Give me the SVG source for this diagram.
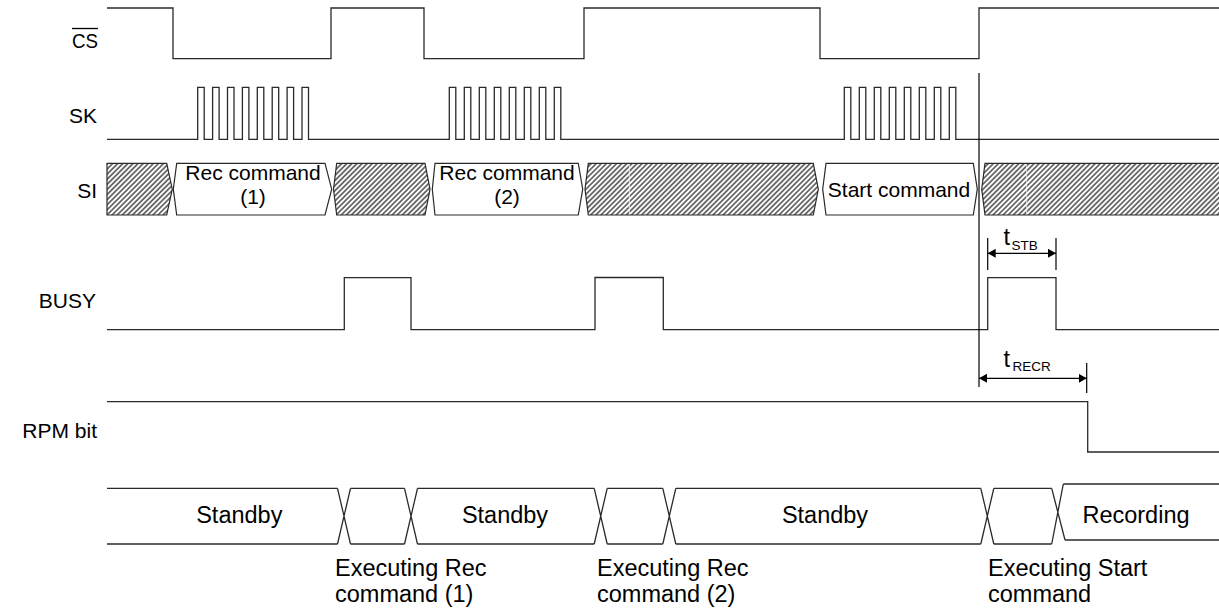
<svg xmlns="http://www.w3.org/2000/svg" width="1219" height="609" viewBox="0 0 1219 609">
<style>
.w{fill:none;stroke:#2a2a2a;stroke-width:1.3}
.h{fill:url(#hatch);stroke:#2a2a2a;stroke-width:1.2}
.b{fill:#fff;stroke:#2a2a2a;stroke-width:1.2}
.lbl{font-family:"Liberation Sans",Arial,sans-serif;font-size:21px;fill:#000;text-anchor:end}
.t21{font-family:"Liberation Sans",Arial,sans-serif;font-size:21px;fill:#000;text-anchor:middle}
.t23{font-family:"Liberation Sans",Arial,sans-serif;font-size:23.5px;fill:#000}
.sub{font-family:"Liberation Sans",Arial,sans-serif;font-size:13.5px;fill:#000}
.dim{fill:none;stroke:#000;stroke-width:1.2}
.fl{fill:none;stroke:#fff;stroke-width:1;stroke-dasharray:3 2;opacity:0.8}
</style>
<defs>
<pattern id="hatch" width="3.6" height="3.6" patternUnits="userSpaceOnUse" patternTransform="rotate(45)">
<rect width="3.6" height="3.6" fill="#fff"/>
<line x1="0.9" y1="0" x2="0.9" y2="3.6" stroke="#4a4a4a" stroke-width="1.5"/>
</pattern>
<marker id="ah" markerWidth="9" markerHeight="10" refX="8" refY="4.5" orient="auto-start-reverse" markerUnits="userSpaceOnUse">
<path d="M0,0 L8,4.5 L0,9 Z" fill="#000"/>
</marker>
</defs>
<rect width="1219" height="609" fill="#fff"/>

<g id="CS">
<text class="lbl" x="98" y="48.3" font-size="23" textLength="26" lengthAdjust="spacingAndGlyphs" style="text-anchor:start" transform="translate(-26,0)">CS</text>
<line x1="72" y1="28.5" x2="98" y2="28.5" stroke="#000" stroke-width="1.3"/>
<path class="w" d="M107,8 H173 V58.7 H331 V8 H424 V58.7 H584 V8 H820 V58.7 H979 V8 H1219"/>
</g>

<g id="SK">
<text class="lbl" x="97" y="123.3">SK</text>
<path class="w" d="M107,139.3 H197.7 V87.3 H204.2 V139.3 H212.6 V87.3 H219.1 V139.3 H227.5 V87.3 H234 V139.3 H242.4 V87.3 H248.9 V139.3 H257.3 V87.3 H263.8 V139.3 H272.2 V87.3 H278.7 V139.3 H287.1 V87.3 H293.6 V139.3 H302 V87.3 H308.5 V139.3 H449.3 V87.3 H455.8 V139.3 H464.3 V87.3 H470.8 V139.3 H479.3 V87.3 H485.8 V139.3 H494.3 V87.3 H500.8 V139.3 H509.3 V87.3 H515.8 V139.3 H524.3 V87.3 H530.8 V139.3 H539.3 V87.3 H545.8 V139.3 H554.3 V87.3 H560.8 V139.3 H844.3 V87.3 H850.8 V139.3 H859.3 V87.3 H865.8 V139.3 H874.3 V87.3 H880.8 V139.3 H889.3 V87.3 H895.8 V139.3 H904.3 V87.3 H910.8 V139.3 H919.3 V87.3 H925.8 V139.3 H934.3 V87.3 H940.8 V139.3 H949.3 V87.3 H955.8 V139.3 H1219"/>
</g>

<g id="SI">
<text class="lbl" x="97" y="198">SI</text>
<path class="h" d="M107,163.3 H166.7 L172.3,189.2 L166.7,215 H107 Z"/>
<path class="b" d="M176.7,163.3 H325 L331.7,189.2 L325,215 H176.7 L173.3,189.2 Z"/>
<path class="h" d="M336.7,163.3 H425 L430,189.2 L425,215 H336.7 L333.5,189.2 Z"/>
<path class="b" d="M435,163.3 H578.3 L582.7,189.2 L578.3,215 H435 L432.3,189.2 Z"/>
<path class="h" d="M588.3,163.3 H813.3 L818.3,189.2 L813.3,215 H588.3 L585,189.2 Z"/>
<path class="b" d="M826,163.3 H973.3 L977.3,189.2 L973.3,215 H826 L822.7,189.2 Z"/>
<path class="h" d="M1222,163.3 H985 L981.7,189.2 L985,215 H1222"/>
<line class="fl" x1="629.3" y1="165" x2="629.3" y2="213"/>
<line class="fl" x1="1026.7" y1="165" x2="1026.7" y2="213"/>
<text class="t21" x="253" y="180">Rec command</text>
<text class="t21" x="253" y="204">(1)</text>
<text class="t21" x="507" y="180">Rec command</text>
<text class="t21" x="507" y="204">(2)</text>
<text class="t21" x="899" y="196.7">Start command</text>
</g>

<g id="BUSY">
<text class="lbl" x="96" y="308">BUSY</text>
<path class="w" d="M107,329.7 H344.3 V277.7 H411 V329.7 H595 V277.5 H663.3 V329.7 H987.7 V277.7 H1056 V329.7 H1219"/>
</g>

<g id="RPM">
<text class="lbl" x="97" y="438">RPM bit</text>
<path class="w" d="M107,401.7 H1087.7 V452 H1219"/>
</g>

<g id="state">
<path class="w" d="M107,488.3 H337.5 M350.5,488.3 H404.5 M417.5,488.3 H594.2 M607.2,488.3 H662.8 M675.8,488.3 H980.8 M993.8,488.3 H1051.7 M1063.3,484 H1219"/>
<path class="w" d="M107,544 H337.5 M350.5,544 H404.5 M417.5,544 H594.2 M607.2,544 H662.8 M675.8,544 H980.8 M993.8,544 H1051.7 M1065,540 H1219"/>
<path class="w" d="M337.5,488.3 L350.5,544 M350.5,488.3 L337.5,544 M404.5,488.3 L417.5,544 M417.5,488.3 L404.5,544 M594.2,488.3 L607.2,544 M607.2,488.3 L594.2,544 M662.8,488.3 L675.8,544 M675.8,488.3 L662.8,544 M980.8,488.3 L993.8,544 M993.8,488.3 L980.8,544 M1051.7,488.3 L1065,540 M1063.3,484 L1051.7,544"/>
<text class="t23" x="239.3" y="523.3" text-anchor="middle">Standby</text>
<text class="t23" x="505" y="523.3" text-anchor="middle">Standby</text>
<text class="t23" x="825" y="523.3" text-anchor="middle">Standby</text>
<text class="t23" x="1136" y="523" text-anchor="middle">Recording</text>
<text class="t23" x="335" y="576">Executing Rec</text>
<text class="t23" x="335" y="601.7">command (1)</text>
<text class="t23" x="597" y="576">Executing Rec</text>
<text class="t23" x="597" y="601.7">command (2)</text>
<text class="t23" x="988" y="576">Executing Start</text>
<text class="t23" x="988" y="601.7">command</text>
</g>

<g id="connectors">
<line class="dim" x1="979" y1="73" x2="979" y2="387"/>
<line class="dim" x1="987.7" y1="238" x2="987.7" y2="270"/>
<line class="dim" x1="1056" y1="238" x2="1056" y2="270"/>
<line class="dim" x1="987.7" y1="253.3" x2="1056" y2="253.3" marker-start="url(#ah)" marker-end="url(#ah)"/>
<line class="dim" x1="1086.7" y1="363" x2="1086.7" y2="393"/>
<line class="dim" x1="979" y1="378.3" x2="1086.7" y2="378.3" marker-start="url(#ah)" marker-end="url(#ah)"/>
<text class="t23" x="1003.5" y="245" font-size="21">t</text>
<text class="sub" x="1011.5" y="250">STB</text>
<text class="t23" x="1003.5" y="366.7" font-size="21">t</text>
<text class="sub" x="1012.5" y="370.7">RECR</text>
</g>
</svg>
